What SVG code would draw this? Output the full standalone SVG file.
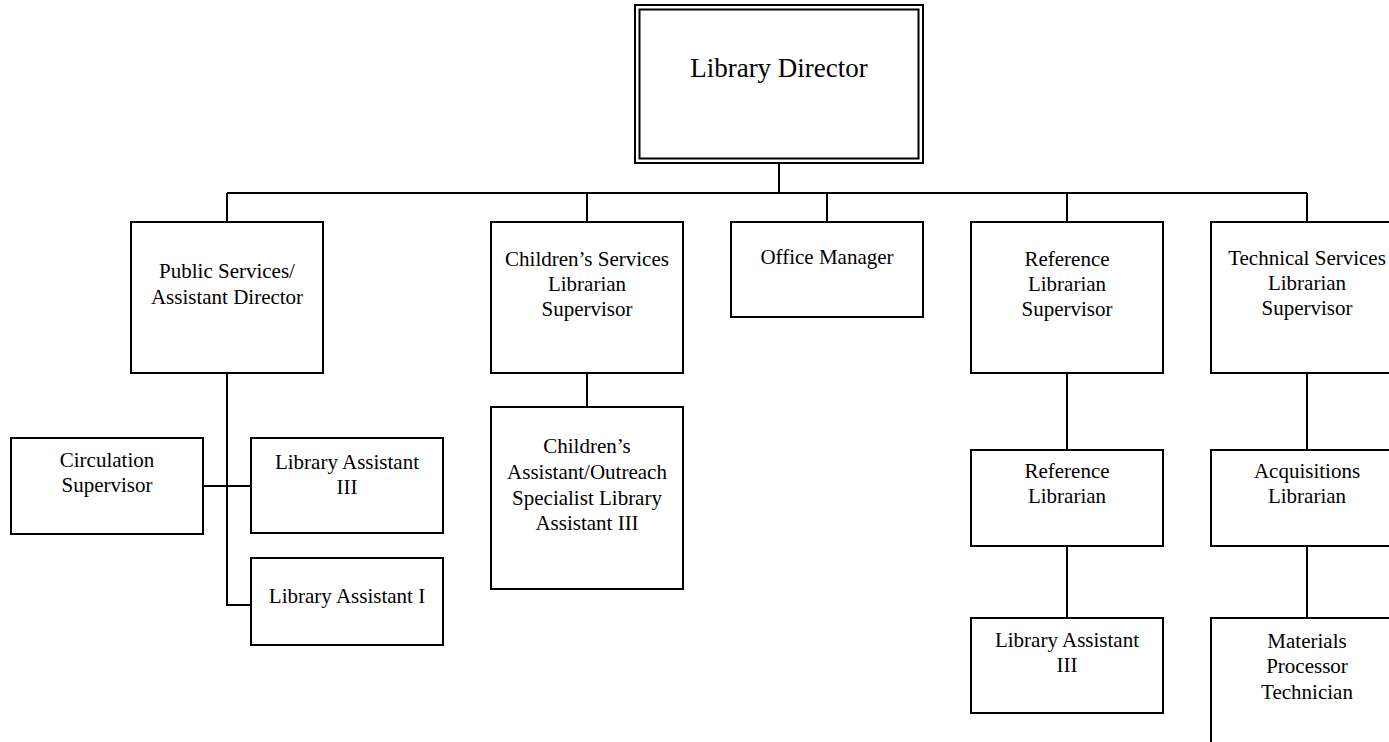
<svg xmlns="http://www.w3.org/2000/svg" width="1389" height="742" viewBox="0 0 1389 742">
<style>
.box{fill:#fff;stroke:#000;stroke-width:2}
.ln{fill:none;stroke:#000;stroke-width:2}
text{font-family:"Liberation Serif","Times New Roman",serif;font-size:21px;fill:#000;text-anchor:middle}
.big{font-size:27px}
</style>
<rect width="1389" height="742" fill="#fff"/>
<g id="connectors">
<path class="ln" d="M779 163V193M227 193H1307M227 193V222M587 193V222M827 193V222M1067 193V222M1307 193V222"/>
<path class="ln" d="M227 373V605H251M203 486H251"/>
<path class="ln" d="M587 373V407"/>
<path class="ln" d="M1067 373V450M1067 546V618"/>
<path class="ln" d="M1307 373V450M1307 546V618"/>
</g>
<g id="director">
<rect class="box" x="635" y="5" width="288" height="158"/>
<rect class="box" x="639.5" y="9.5" width="279" height="149"/>
<text class="big" x="779" y="77">Library Director</text>
</g>
<g id="public-services">
<rect class="box" x="131" y="222" width="192" height="151"/>
<text x="227" y="278">Public Services/</text>
<text x="227" y="304">Assistant Director</text>
</g>
<g id="childrens-services">
<rect class="box" x="491" y="222" width="192" height="151"/>
<text x="587" y="266">Children’s Services</text>
<text x="587" y="291">Librarian</text>
<text x="587" y="316">Supervisor</text>
</g>
<g id="office-manager">
<rect class="box" x="731" y="222" width="192" height="95"/>
<text x="827" y="264">Office Manager</text>
</g>
<g id="reference-supervisor">
<rect class="box" x="971" y="222" width="192" height="151"/>
<text x="1067" y="266">Reference</text>
<text x="1067" y="291">Librarian</text>
<text x="1067" y="316">Supervisor</text>
</g>
<g id="technical-services">
<rect class="box" x="1211" y="222" width="192" height="151"/>
<text x="1307" y="265">Technical Services</text>
<text x="1307" y="290">Librarian</text>
<text x="1307" y="315">Supervisor</text>
</g>
<g id="circulation-supervisor">
<rect class="box" x="11" y="438" width="192" height="96"/>
<text x="107" y="467">Circulation</text>
<text x="107" y="492">Supervisor</text>
</g>
<g id="library-assistant-iii-public">
<rect class="box" x="251" y="438" width="192" height="95"/>
<text x="347" y="469">Library Assistant</text>
<text x="347" y="494">III</text>
</g>
<g id="library-assistant-i">
<rect class="box" x="251" y="558" width="192" height="87"/>
<text x="347" y="603">Library Assistant I</text>
</g>
<g id="childrens-assistant">
<rect class="box" x="491" y="407" width="192" height="182"/>
<text x="587" y="453">Children’s</text>
<text x="587" y="479">Assistant/Outreach</text>
<text x="587" y="505">Specialist Library</text>
<text x="587" y="530">Assistant III</text>
</g>
<g id="reference-librarian">
<rect class="box" x="971" y="450" width="192" height="96"/>
<text x="1067" y="478">Reference</text>
<text x="1067" y="503">Librarian</text>
</g>
<g id="library-assistant-iii-reference">
<rect class="box" x="971" y="618" width="192" height="95"/>
<text x="1067" y="647">Library Assistant</text>
<text x="1067" y="672">III</text>
</g>
<g id="acquisitions-librarian">
<rect class="box" x="1211" y="450" width="192" height="96"/>
<text x="1307" y="478">Acquisitions</text>
<text x="1307" y="503">Librarian</text>
</g>
<g id="materials-processor">
<rect class="box" x="1211" y="618" width="192" height="140"/>
<text x="1307" y="648">Materials</text>
<text x="1307" y="673">Processor</text>
<text x="1307" y="699">Technician</text>
</g>
</svg>
